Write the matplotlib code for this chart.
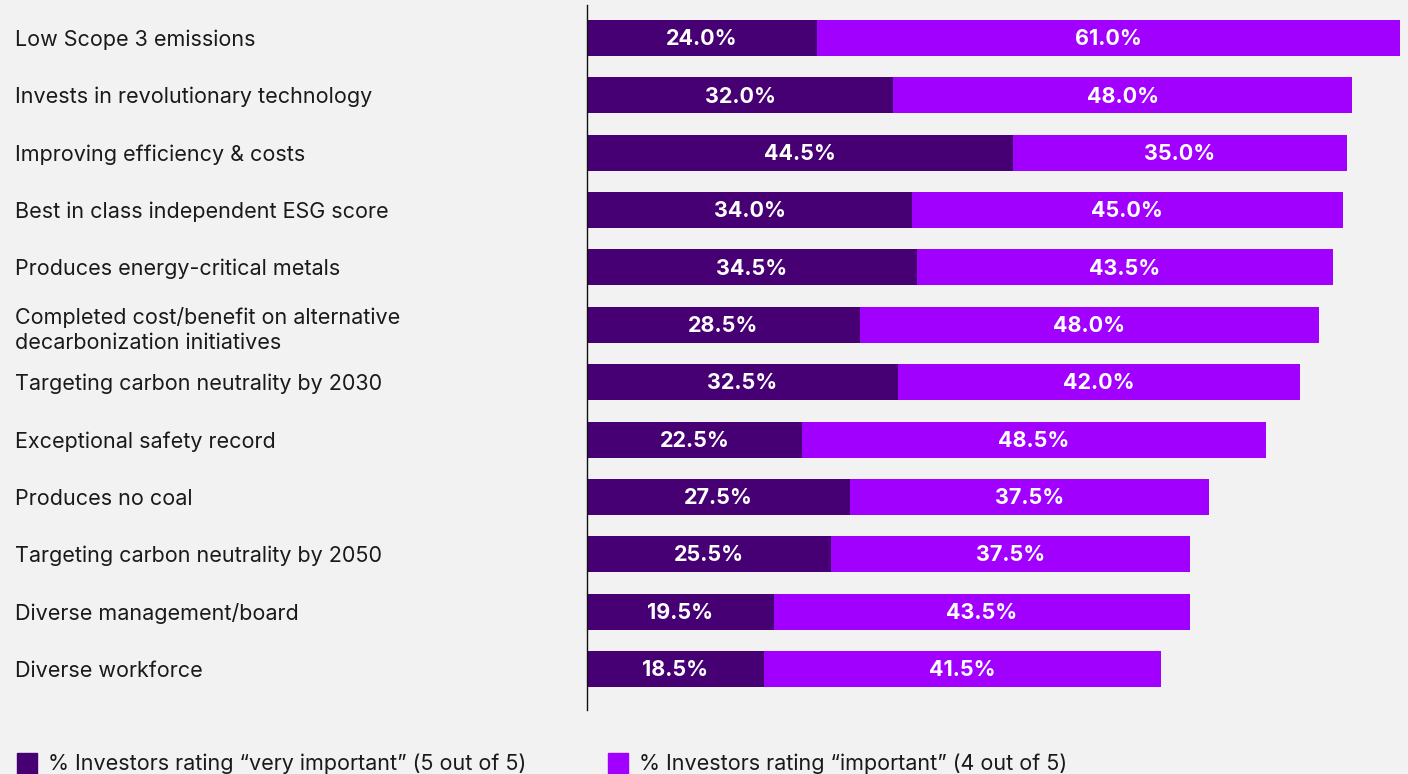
import numpy as np
import matplotlib.pyplot as plt
from matplotlib.patches import Rectangle
from matplotlib.transforms import blended_transform_factory

plt.rcParams['font.family'] = ['Inter', 'DejaVu Sans']

factors = [
    'Low Scope 3 emissions',
    'Invests in revolutionary technology',
    'Improving efficiency & costs',
    'Best in class independent ESG score',
    'Produces energy-critical metals',
    'Completed cost/benefit on alternative\ndecarbonization initiatives',
    'Targeting carbon neutrality by 2030',
    'Exceptional safety record',
    'Produces no coal',
    'Targeting carbon neutrality by 2050',
    'Diverse management/board',
    'Diverse workforce',
]
very_important = [24.0, 32.0, 44.5, 34.0, 34.5, 28.5, 32.5, 22.5, 27.5, 25.5, 19.5, 18.5]
important = [61.0, 48.0, 35.0, 45.0, 43.5, 48.0, 42.0, 48.5, 37.5, 37.5, 43.5, 41.5]
legend_labels = ['% Investors rating \u201cvery important\u201d (5 out of 5)',
                 '% Investors rating \u201cimportant\u201d (4 out of 5)']

dark = '#460073'
bright = '#a100ff'
bg = '#f2f2f2'

W, H = 1408, 774
fig = plt.figure(figsize=(W / 100, H / 100), dpi=100, facecolor=bg)
ax = fig.add_axes([587 / W, 1 - 710 / H, 1 - 587 / W, 705 / H])
ax.set_facecolor(bg)

y = np.arange(len(factors))
h = 36 / 57.36
ax.barh(y, very_important, height=h, color=dark)
ax.barh(y, important, left=very_important, height=h, color=bright)

for i in range(len(factors)):
    v, w = very_important[i], important[i]
    ax.text(v / 2, i + 0.02, f'{v:.1f}%', ha='center', va='center', color='white',
            fontsize=15.5, fontweight='bold')
    ax.text(v + w / 2, i + 0.02, f'{w:.1f}%', ha='center', va='center', color='white',
            fontsize=15.5, fontweight='bold')

# category names, left-aligned at the figure edge
trans = blended_transform_factory(fig.transFigure, ax.transData)
for i, name in enumerate(factors):
    yy = i + (0.09 if '\n' in name else 0.03)
    ax.text(15 / W, yy, name, transform=trans, ha='left', va='center',
            fontsize=15.5, color='#1a1a1a', linespacing=1.3)

ax.set_xlim(0, 85 * (W - 587) / 813)
ax.set_ylim(11 + 41 / 57.36, -33 / 57.36)
for s in ['top', 'right', 'bottom']:
    ax.spines[s].set_visible(False)
ax.spines['left'].set_linewidth(1.0)
ax.spines['left'].set_color('#111111')
ax.set_xticks([])
ax.set_yticks([])

# legend along the bottom
for x0, col, lab in [(17, dark, legend_labels[0]), (608, bright, legend_labels[1])]:
    fig.add_artist(Rectangle((x0 / W, 0), 20 / W, 21 / H, transform=fig.transFigure,
                             color=col, clip_on=False))
    fig.text((x0 + 31) / W, 1 - 764 / H, lab, ha='left', va='center',
             fontsize=15.5, color='#1a1a1a')

fig.savefig('out.png', dpi=100, facecolor=bg)
